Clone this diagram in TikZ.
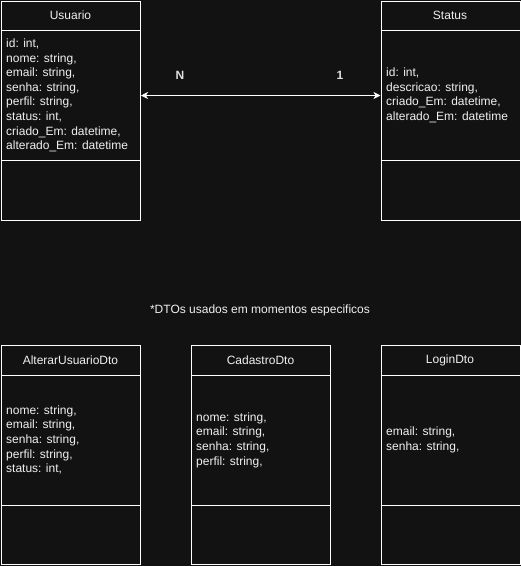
\documentclass[tikz,border=0pt]{standalone}
\usepackage{fontspec}
\setmainfont{Liberation Sans}
\usetikzlibrary{arrows.meta}
\definecolor{bg}{HTML}{121212}
\definecolor{fg}{HTML}{F0F0F0}
\definecolor{lblc}{HTML}{E0E0E0}
\begin{document}
\begin{tikzpicture}[x=1pt,y=-1pt,
  classbox/.style={draw=white, fill=bg, line width=1pt, rectangle, minimum width=139pt, minimum height=219pt, anchor=north west, inner sep=0pt},
  divline/.style={draw=white, line width=1pt},
  titletext/.style={text=fg, font=\fontsize{12}{14.5}\selectfont, inner sep=0pt},
  bodytext/.style={text=fg, font=\fontsize{12}{14.6}\selectfont, align=left, anchor=west, inner sep=0pt},
  assoc/.style={draw=white, line width=1pt, {Stealth[length=7pt,width=7pt,inset=2pt]}-{Stealth[length=7pt,width=7pt,inset=2pt]}},
  lbl/.style={text=fg, font=\fontsize{12}{14}\selectfont, inner sep=0pt},
  mult/.style={text=lblc, font=\fontsize{12}{14}\selectfont\bfseries, inner sep=0pt}]
\fill[bg] (0,0) rectangle (521,566);
\useasboundingbox (0,0) rectangle (521,566);

% Usuario
\node[classbox] (usuario) at (1,1) {};
\draw[divline] ([yshift=-29pt]usuario.north west) -- ([yshift=-29pt]usuario.north east);
\draw[divline] ([yshift=-159pt]usuario.north west) -- ([yshift=-159pt]usuario.north east);
\node[titletext] (usuarioT) at (70.5,15.5) {Usuario};
\node[bodytext] (usuarioB) at (6,95.5) {id: int,\\nome: string,\\email: string,\\senha: string,\\perfil: string,\\status: int,\\criado\_Em: datetime,\\alterado\_Em: datetime};

% Status
\node[classbox] (status) at (380.5,1) {};
\draw[divline] ([yshift=-29pt]status.north west) -- ([yshift=-29pt]status.north east);
\draw[divline] ([yshift=-159pt]status.north west) -- ([yshift=-159pt]status.north east);
\node[titletext] (statusT) at (450,15.5) {Status};
\node[bodytext] (statusB) at (386,95.5) {id: int,\\descricao: string,\\criado\_Em: datetime,\\alterado\_Em: datetime};

% association
\coordinate (arow) at (200,95.5);
\draw[assoc] (arow -| usuario.east) -- (arow -| status.west);
\node[mult] (lblN) at (180,75) {N};
\node[mult] (lbl1) at (340,75) {1};

% note
\node[lbl] (note) at (260,310) {*DTOs usados em momentos especificos};

% AlterarUsuarioDto
\node[classbox] (alterar) at (1,345) {};
\draw[divline] ([yshift=-30pt]alterar.north west) -- ([yshift=-30pt]alterar.north east);
\draw[divline] ([yshift=-160pt]alterar.north west) -- ([yshift=-160pt]alterar.north east);
\node[titletext] (alterarT) at (70.5,360) {AlterarUsuarioDto};
\node[bodytext] (alterarB) at (6,440) {nome: string,\\email: string,\\senha: string,\\perfil: string,\\status: int,};

% CadastroDto
\node[classbox] (cadastro) at (191,345) {};
\draw[divline] ([yshift=-30pt]cadastro.north west) -- ([yshift=-30pt]cadastro.north east);
\draw[divline] ([yshift=-160pt]cadastro.north west) -- ([yshift=-160pt]cadastro.north east);
\node[titletext] (cadastroT) at (260.5,360) {CadastroDto};
\node[bodytext] (cadastroB) at (196,440) {nome: string,\\email: string,\\senha: string,\\perfil: string,};

% LoginDto
\node[classbox] (login) at (380.5,345) {};
\draw[divline] ([yshift=-30pt]login.north west) -- ([yshift=-30pt]login.north east);
\draw[divline] ([yshift=-160pt]login.north west) -- ([yshift=-160pt]login.north east);
\node[titletext] (loginT) at (450,360) {LoginDto};
\node[bodytext] (loginB) at (386,440) {email: string,\\senha: string,};
\end{tikzpicture}
\end{document}
